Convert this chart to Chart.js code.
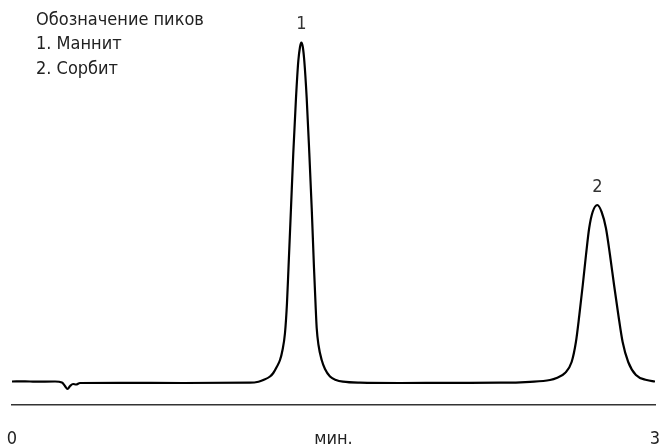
<!DOCTYPE html>
<html lang="ru">
<head>
<meta charset="utf-8">
<title>Маннит и сорбит</title>
<script src="https://cdn.jsdelivr.net/npm/chart.js"></script>
<style>
  html, body { margin: 0; padding: 0; background: #fff; }
  #wrap { width: 662px; height: 447px; }
</style>
</head>
<body>
<div id="wrap"><canvas id="chrom"></canvas></div>
<script>
// время удерживания, мин
const times = [
  0.000, 0.061, 0.107, 0.201, 0.233, 0.247, 0.259, 0.271, 0.285, 0.299, 0.317,
  0.500, 0.800, 1.110, 1.150, 1.1725, 1.2037, 1.2191, 1.2350, 1.2504, 1.2621,
  1.2737, 1.2830, 1.2900, 1.3017, 1.3124, 1.3250, 1.3358, 1.3437, 1.3498,
  1.3568, 1.3638, 1.3749, 1.3871, 1.3983, 1.4090, 1.4160, 1.4216, 1.4300,
  1.4449, 1.4603, 1.4837, 1.5116, 1.5443, 1.6236, 1.810, 2.044, 2.277, 2.417,
  2.510, 2.541, 2.580, 2.611, 2.631, 2.647, 2.663, 2.678, 2.693, 2.709, 2.731,
  2.751, 2.771, 2.790, 2.809, 2.829, 2.849, 2.875, 2.911, 2.961, 3.000
];
// отклик детектора
const signal = [
  1.5, 1.7, 1.3, 1.5, 0.5, -3, -6, -3, -1, -1.5, 0,
  0.2, 0, 0.3, 1.3, 3, 6.5, 10, 16, 23, 33,
  50, 80, 115, 175, 230, 285, 322, 336, 340.5,
  336, 322, 285, 230, 175, 115, 80, 55, 38,
  23, 14, 6.5, 3, 1.3, 0.3, 0, 0.2, 0.3, 1.2,
  3, 5, 10, 21, 41, 68, 98, 128, 155, 171, 178,
  171, 155, 128, 98, 68, 41, 21, 8, 3, 1.5
];

const peakTimes = [1.3498, 2.731];
const peakHeights = [340.5, 178];
const peakNumbers = ['1', '2'];

const legendLines = ['Обозначение пиков', '1. Маннит', '2. Сорбит'];

const tickValues = [0, 1.5, 3];
const tickLabels = ['0', 'мин.', '3'];

const FONT = '"Liberation Sans Narrow", "DejaVu Sans Condensed", "Roboto", sans-serif';

// подписи пиков и перечень веществ
const annotate = {
  id: 'annotate',
  afterDatasetsDraw(chart) {
    const { ctx, scales } = chart;
    ctx.save();
    ctx.font = '18px ' + FONT;
    ctx.fillStyle = '#222';
    ctx.textAlign = 'left';
    ctx.textBaseline = 'middle';
    legendLines.forEach((t, i) => ctx.fillText(t, 36, 20 + i * 24.5));

    ctx.fillStyle = '#333';
    ctx.textAlign = 'center';
    peakTimes.forEach((t, i) => {
      const x = scales.x.getPixelForValue(t);
      const y = scales.y.getPixelForValue(peakHeights[i]);
      ctx.fillText(peakNumbers[i], x, y - 18);
    });
    ctx.restore();
  }
};

new Chart(document.getElementById('chrom'), {
  type: 'line',
  data: {
    datasets: [{
      data: times.map((t, i) => ({ x: t, y: signal[i] })),
      borderColor: '#000',
      borderWidth: 2.2,
      pointRadius: 0,
      cubicInterpolationMode: 'monotone',
      fill: false
    }]
  },
  options: {
    responsive: true,
    maintainAspectRatio: false,
    animation: false,
    layout: { padding: { left: 12, right: 7, top: 10, bottom: 0 } },
    plugins: { legend: { display: false }, tooltip: { enabled: false } },
    scales: {
      x: {
        type: 'linear',
        min: 0,
        max: 3,
        afterBuildTicks: s => { s.ticks = tickValues.map(v => ({ value: v })); },
        afterFit: s => { s.height = 42; s.paddingLeft = 0; s.paddingRight = 0; },
        ticks: {
          padding: 24,
          color: '#222',
          font: { family: FONT, size: 18 },
          maxRotation: 0,
          autoSkip: false,
          callback: (v) => tickLabels[tickValues.indexOf(v)]
        },
        grid: { display: false, drawTicks: false },
        border: { display: true, color: '#333', width: 1.5 }
      },
      y: {
        display: false,
        min: -22,
        max: 373
      }
    }
  },
  plugins: [annotate]
});
</script>
</body>
</html>
